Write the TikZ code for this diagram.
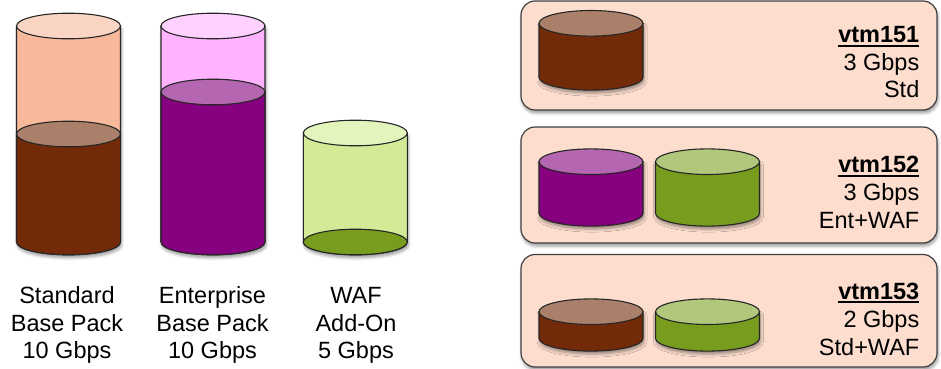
\documentclass[tikz,border=0pt]{standalone}
\usepackage{fontspec}
\setmainfont{Liberation Sans}
\usetikzlibrary{shadows.blur}
\definecolor{peachtop}{HTML}{FAD5C3}
\definecolor{peachbody}{HTML}{F8B89A}
\definecolor{brownlevel}{HTML}{AB806A}
\definecolor{brownbody}{HTML}{722A09}
\definecolor{pinktop}{HTML}{FFD1FF}
\definecolor{pinkbody}{HTML}{FFB3FF}
\definecolor{purplelevel}{HTML}{B566B0}
\definecolor{purplebody}{HTML}{87007F}
\definecolor{limetop}{HTML}{E3F4BD}
\definecolor{limebody}{HTML}{D3EA96}
\definecolor{greenbody}{HTML}{779C1E}
\definecolor{greentop}{HTML}{B0C77C}
\definecolor{boxfill}{HTML}{FCDDCE}
\newcommand\ulbf[1]{\setbox0\hbox{\bfseries #1}\rlap{\rule[-4.3pt]{\wd0}{2pt}}\box0}
\newcommand\cylbody[5][]{\path[cylline,fill=#5,#1] ({#2-52},#3) -- ({#2-52},#4) arc[start angle=180,end angle=360,x radius=52pt,y radius=12.8pt] -- ({#2+52},#3) -- cycle;}
\newcommand\cylcap[3]{\path[cylline,fill=#3] (#1,#2) ellipse[x radius=52pt,y radius=12.8pt];}
\begin{document}
\begin{tikzpicture}[x=1pt,y=1pt,
  cylline/.style={draw=black!85,line width=1.1pt},
  softshadow/.style={blur shadow={shadow xshift=1pt,shadow yshift=-3pt,shadow blur radius=3pt,shadow opacity=40}},
  vbox/.style={draw=black!75,line width=1.2pt,fill=boxfill,rounded corners=14pt,inner sep=0pt,softshadow},
  lbl/.style={font=\fontsize{23.5pt}{27pt}\selectfont,inner sep=0pt}]
\useasboundingbox (0,0) rectangle (941,368);

% ---- left: Standard base pack
\cylbody[softshadow]{68.5}{342}{126}{peachbody}
\cylbody{68.5}{234}{126}{brownbody}
\cylcap{68.5}{234}{brownlevel}
\cylcap{68.5}{342}{peachtop}
% ---- Enterprise base pack
\cylbody[softshadow]{213}{342}{126}{pinkbody}
\cylbody{213}{276}{126}{purplebody}
\cylcap{213}{276}{purplelevel}
\cylcap{213}{342}{pinktop}
% ---- WAF add-on
\cylbody[softshadow]{355.3}{235}{126}{limebody}
\cylcap{355.3}{126}{greenbody}
\cylcap{355.3}{235}{limetop}

\node[lbl,anchor=base] (s1) at (67,64.7) {Standard};
\node[lbl,anchor=base] (s2) at (67,37) {Base Pack};
\node[lbl,anchor=base] (s3) at (67,9.7) {10 Gbps};
\node[lbl,anchor=base] (e1) at (212.5,64.7) {Enterprise};
\node[lbl,anchor=base] (e2) at (212.5,37) {Base Pack};
\node[lbl,anchor=base] (e3) at (212.5,9.7) {10 Gbps};
\node[lbl,anchor=base] (w1) at (356,64.7) {WAF};
\node[lbl,anchor=base] (w2) at (356,37) {Add-On};
\node[lbl,anchor=base] (w3) at (356,9.7) {5 Gbps};

% ---- right boxes
\node[vbox,minimum width=416pt,minimum height=109pt] (box1) at (729,312.5) {};
\node[vbox,minimum width=416pt,minimum height=116pt] (box2) at (729,183) {};
\node[vbox,minimum width=416pt,minimum height=112.5pt] (box3) at (729,57.25) {};

% box 1 cylinder
\cylbody[softshadow]{591}{344.7}{290.7}{brownbody}
\cylcap{591}{344.7}{brownlevel}
% box 2 cylinders
\cylbody[softshadow]{591}{206.3}{154.7}{purplebody}
\cylcap{591}{206.3}{purplelevel}
\cylbody[softshadow]{707.5}{206.3}{154.7}{greenbody}
\cylcap{707.5}{206.3}{greentop}
% box 3 cylinders
\cylbody[softshadow]{591}{56.3}{29.7}{brownbody}
\cylcap{591}{56.3}{brownlevel}
\cylbody[softshadow]{707.5}{56.3}{29.7}{greenbody}
\cylcap{707.5}{56.3}{greentop}

\node[lbl,anchor=base east] (t11) at (919.5,325.5) {\ulbf{vtm151}};
\node[lbl,anchor=base east] (t12) at (919.5,297.3) {3 Gbps};
\node[lbl,anchor=base east] (t13) at (919.5,270.3) {Std};
\node[lbl,anchor=base east] (t21) at (919.5,195.3) {\ulbf{vtm152}};
\node[lbl,anchor=base east] (t22) at (919.5,168) {3 Gbps};
\node[lbl,anchor=base east] (t23) at (919.5,139.7) {Ent+WAF};
\node[lbl,anchor=base east] (t31) at (919.5,69) {\ulbf{vtm153}};
\node[lbl,anchor=base east] (t32) at (919.5,40.7) {2 Gbps};
\node[lbl,anchor=base east] (t33) at (919.5,12.3) {Std+WAF};
\end{tikzpicture}
\end{document}
